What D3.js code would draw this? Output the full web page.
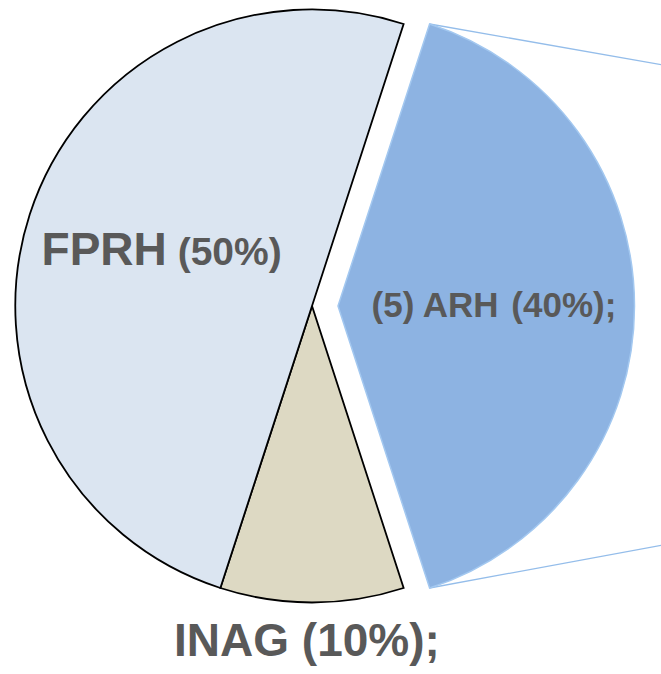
<!DOCTYPE html>
<html>
<head>
<meta charset="utf-8">
<script src="https://cdn.jsdelivr.net/npm/d3@7"></script>
<style>
  html, body { margin: 0; padding: 0; background: #fff; }
  svg { display: block; }
</style>
</head>
<body>
<div id="chart"></div>
<script>
// data, in drawing order (clockwise from the ARH slice)
const categories = ['ARH', 'INAG', 'FPRH'];
const values = [40, 10, 50];
const labelNames = ['(5) ARH', 'INAG', 'FPRH'];
const labelPcts = ['(40%);', '(10%);', '(50%)'];

const W = 661, H = 674;
const cx = 312, cy = 306, R = 296.5;
const explode = 26;

const fills = { ARH: '#8db3e2', INAG: '#ddd9c3', FPRH: '#dbe5f1' };
const strokes = { ARH: '#a3c8f0', INAG: '#000', FPRH: '#000' };

const svg = d3.select('#chart').append('svg')
  .attr('width', W)
  .attr('height', H);

const pie = d3.pie()
  .sort(null)
  .value(d => d)
  .startAngle(Math.PI * 0.1)
  .endAngle(Math.PI * 2.1);

const arcs = pie(values).map((a, i) => Object.assign(a, { cat: categories[i], i: i }));

const arc = d3.arc().innerRadius(0).outerRadius(R);

// offset of the exploded slice along its middle angle
function shift(d) {
  if (d.cat !== 'ARH') return [0, 0];
  const m = (d.startAngle + d.endAngle) / 2;
  return [Math.sin(m) * explode, -Math.cos(m) * explode];
}

const g = svg.append('g').attr('transform', `translate(${cx},${cy})`);

// connector lines to the (cropped) secondary chart on the right
const arh = arcs.find(d => d.cat === 'ARH');
const [sx, sy] = shift(arh);
const corners = [arh.startAngle, arh.endAngle].map(a => [sx + Math.sin(a) * R, sy - Math.cos(a) * R]);
const targets = [[W - cx + 2, 65 - cy], [W - cx + 2, 545 - cy]];
g.append('g').attr('class', 'connectors')
  .selectAll('line')
  .data(corners)
  .enter().append('line')
  .attr('x1', d => d[0])
  .attr('y1', d => d[1])
  .attr('x2', (d, i) => targets[i][0])
  .attr('y2', (d, i) => targets[i][1])
  .style('stroke', '#94bdea')
  .style('stroke-width', '1.3px');

g.append('g').attr('class', 'slices')
  .selectAll('path')
  .data(arcs)
  .enter().append('path')
  .attr('d', arc)
  .attr('transform', d => `translate(${shift(d)})`)
  .style('fill', d => fills[d.cat])
  .style('stroke', d => strokes[d.cat])
  .style('stroke-width', d => d.cat === 'ARH' ? '1.5px' : '1.8px')
  .style('stroke-linejoin', 'miter');

// labels
const labelArc = d3.arc().innerRadius(156).outerRadius(156);
const outerArc = d3.arc().innerRadius(335).outerRadius(335);
// todo: the label tweaks are by eye
const labelStyle = {
  ARH: { size1: 35, size2: 35, gap: 3, dx: 0, dy: 11 },
  INAG: { size1: 46, size2: 46, gap: 0, dx: -5, dy: 15 },
  FPRH: { size1: 46, size2: 39, gap: 0, dx: -2, dy: 7 }
};

const labels = g.append('g').attr('class', 'labels')
  .selectAll('text')
  .data(arcs)
  .enter().append('text')
  .attr('text-anchor', 'middle')
  .attr('transform', d => {
    const [ox, oy] = shift(d);
    const s = labelStyle[d.cat];
    const c = d.cat === 'INAG' ? outerArc.centroid(d) : labelArc.centroid(d);
    return `translate(${c[0] + ox + s.dx},${c[1] + oy + s.dy})`;
  })
  .style('font-family', '"Liberation Sans", Arial, sans-serif')
  .style('font-weight', 'bold')
  .style('fill', '#595959');

labels.append('tspan')
  .style('font-size', d => labelStyle[d.cat].size1 + 'px')
  .text(d => labelNames[d.i]);
labels.append('tspan')
  .attr('dx', d => labelStyle[d.cat].gap)
  .style('font-size', d => labelStyle[d.cat].size2 + 'px')
  .text(d => ' ' + labelPcts[d.i]);
</script>
</body>
</html>
